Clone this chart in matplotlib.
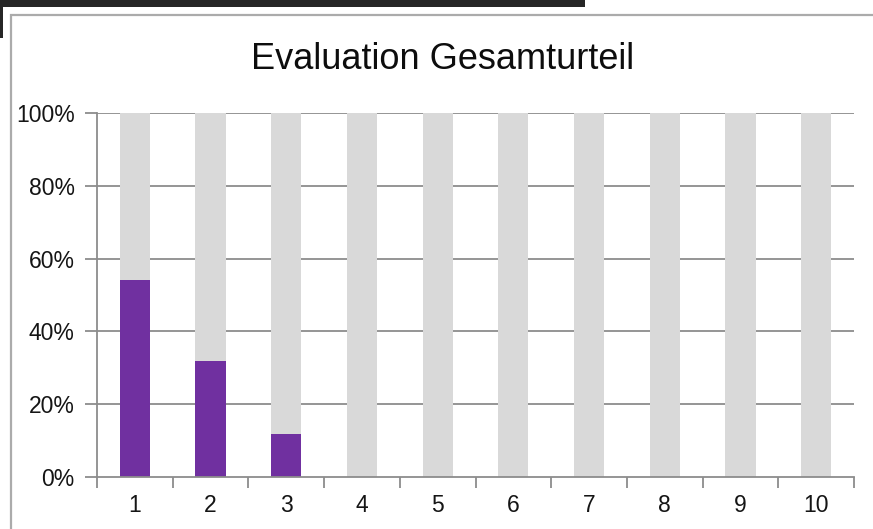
import matplotlib
matplotlib.use("Agg")
import matplotlib.pyplot as plt
from matplotlib.patches import Rectangle
from matplotlib.ticker import FixedLocator

categories = ["1", "2", "3", "4", "5", "6", "7", "8", "9", "10"]
share = [54, 32, 12, 0, 0, 0, 0, 0, 0, 0]
full = [100] * 10
yticks = [0, 20, 40, 60, 80, 100]
ytick_labels = ["0%", "20%", "40%", "60%", "80%", "100%"]
title = "Evaluation Gesamturteil"

W, H = 873, 529
plt.rcParams['font.family'] = ['Liberation Sans', 'DejaVu Sans']
fig = plt.figure(figsize=(W / 100, H / 100), dpi=100)
fig.patch.set_facecolor("white")

# screenshot artefacts: dark band and strip
fig.add_artist(Rectangle((0, 1 - 7 / H), 585 / W, 7 / H, transform=fig.transFigure,
                         facecolor="#262626", edgecolor="none"))
fig.add_artist(Rectangle((0, 1 - 38 / H), 3 / W, 38 / H, transform=fig.transFigure,
                         facecolor="#262626", edgecolor="none"))
# chart frame
fig.add_artist(Rectangle((11 / W, -0.05), 1.1, 1.05 - 15 / H, transform=fig.transFigure,
                         facecolor="none", edgecolor="#ABABAB", linewidth=1.6))

left, right, top, bottom = 97, 854, 112.7, 477.3
ax = fig.add_axes([left / W, 1 - bottom / H, (right - left) / W, (bottom - top) / H])
ax.set_facecolor("none")

x = list(range(len(categories)))
ax.bar(x, full, width=0.4, color="#D9D9D9", zorder=2)
ax.bar(x, share, width=0.4, color="#7030A0", zorder=3)

ax.set_xlim(-0.5, len(categories) - 0.5)
ax.set_ylim(0, 100)

grid_c = "#8C8C8C"
for yv in yticks[1:]:
    ax.axhline(yv, color=grid_c, linewidth=1.3, zorder=1)

for s in ["top", "right"]:
    ax.spines[s].set_visible(False)
for s in ["left", "bottom"]:
    ax.spines[s].set_color(grid_c)
    ax.spines[s].set_linewidth(1.3)
    ax.spines[s].set_zorder(4)

ax.set_yticks(yticks)
ax.set_yticklabels(ytick_labels)
ax.tick_params(axis="y", length=9, width=1.3, color=grid_c, pad=7, labelsize=16.5,
               labelcolor="#151515")

ax.set_xticks(x)
ax.set_xticklabels(categories)
ax.xaxis.set_minor_locator(FixedLocator([i - 0.5 for i in range(len(categories) + 1)]))
ax.tick_params(axis="x", which="major", length=0, pad=12, labelsize=16.5, labelcolor="#151515")
ax.tick_params(axis="x", which="minor", length=8, width=1.3, color=grid_c)

fig.text(442.5 / W, 1 - 69 / H, title, ha="center", va="baseline", fontsize=26,
         color="#0D0D0D")

fig.savefig("out.png", dpi=100)
